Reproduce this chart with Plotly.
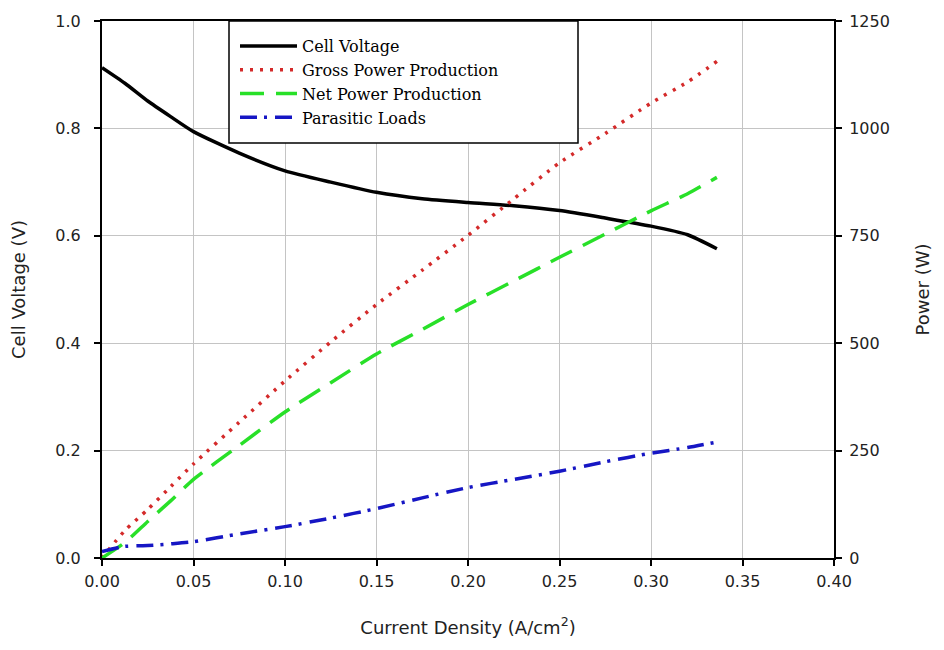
import plotly.graph_objects as go

# ---- data ----
current_density = [0.0, 0.0125, 0.025, 0.0375, 0.05, 0.075, 0.10, 0.125, 0.15,
                   0.175, 0.20, 0.225, 0.25, 0.275, 0.30, 0.32, 0.336]
cell_voltage = [0.913, 0.884, 0.851, 0.822, 0.794, 0.754, 0.721, 0.700, 0.681,
                0.669, 0.662, 0.656, 0.647, 0.633, 0.618, 0.602, 0.576]
gross_power = [0, 64, 113, 166, 219, 316, 412, 503, 590,
               670, 751, 836, 920, 988, 1059, 1108, 1156]
net_power = [0, 36, 85, 133, 183, 262, 340, 408, 475,
             532, 590, 645, 700, 754, 808, 848, 886]
parasitic_loads = [15, 27, 29, 33, 38, 56, 73, 93, 115,
                   140, 164, 183, 202, 224, 244, 257, 270]

x_ticks = [0.0, 0.05, 0.10, 0.15, 0.20, 0.25, 0.30, 0.35, 0.40]
y_ticks = [0.0, 0.2, 0.4, 0.6, 0.8, 1.0]
y2_ticks = [0, 250, 500, 750, 1000, 1250]

fig = go.Figure()
fig.add_trace(go.Scatter(x=current_density, y=cell_voltage, mode="lines",
                         name="Cell Voltage",
                         line=dict(color="black", width=3.5, shape="spline", smoothing=0.6)))
fig.add_trace(go.Scatter(x=current_density, y=gross_power, mode="lines",
                         name="Gross Power Production", yaxis="y2",
                         line=dict(color="#d42a2a", width=3.5, dash="3px,7px",
                                   shape="spline", smoothing=0.6)))
fig.add_trace(go.Scatter(x=current_density, y=net_power, mode="lines",
                         name="Net Power Production", yaxis="y2",
                         line=dict(color="#28e028", width=3.5, dash="24px,12px",
                                   shape="spline", smoothing=0.6)))
fig.add_trace(go.Scatter(x=current_density, y=parasitic_loads, mode="lines",
                         name="Parasitic Loads", yaxis="y2",
                         line=dict(color="#1616c4", width=3.5, dash="17px,7px,3px,8px",
                                   shape="spline", smoothing=0.6)))

sans = "DejaVu Sans, Verdana, sans-serif"
tick_font = dict(family=sans, size=16, color="#222")
title_font = dict(family=sans, size=18, color="#222")

L, R, T, B = 102, 110, 21, 92
W, H = 944, 650
pw, ph = W - L - R, H - T - B

def px_x(p):
    return (p - L) / pw

def px_y(p):
    return (H - B - p) / ph

fig.update_layout(
    width=W, height=H,
    margin=dict(l=L, r=R, t=T, b=B, pad=0),
    paper_bgcolor="white", plot_bgcolor="white",
    showlegend=True,
    xaxis=dict(range=[0, 0.4], tickvals=x_ticks, tickformat=".2f",
               showgrid=True, gridcolor="#c4c4c4", gridwidth=1,
               showline=True, linecolor="black", linewidth=2, mirror=True,
               ticks="outside", ticklen=6, tickwidth=1.5, tickcolor="black",
               tickfont=tick_font, zeroline=False, ticklabelstandoff=2,
               title=dict(text="Current Density (A/cm<sup>2</sup>)", font=title_font,
                          standoff=31)),
    yaxis=dict(range=[0, 1.0], tickvals=y_ticks, tickformat=".1f",
               showgrid=True, gridcolor="#c4c4c4", gridwidth=1,
               showline=True, linecolor="black", linewidth=2,
               ticks="outside", ticklen=6, tickwidth=1.5, tickcolor="black",
               tickfont=tick_font, zeroline=False, ticklabelstandoff=10,
               title=dict(text="Cell Voltage (V)", font=title_font, standoff=25)),
    yaxis2=dict(range=[0, 1250], tickvals=y2_ticks, overlaying="y", side="right",
                showgrid=False, showline=True, linecolor="black", linewidth=2,
                ticks="outside", ticklen=6, tickwidth=1.5, tickcolor="black",
                tickfont=tick_font, zeroline=False, ticklabelstandoff=4,
                title=dict(text="Power (W)", font=title_font, standoff=27)),
    legend=dict(x=px_x(235), y=px_y(29), xanchor="left", yanchor="top",
                bgcolor="rgba(0,0,0,0)", borderwidth=0, itemwidth=57,
                font=dict(family="DejaVu Serif, Times New Roman, serif",
                          size=16, color="black"),
                tracegroupgap=0),
    shapes=[dict(type="rect", xref="paper", yref="paper",
                 x0=px_x(229), x1=px_x(578), y0=px_y(143), y1=px_y(21),
                 line=dict(color="black", width=1.5), fillcolor="white",
                 layer="above")],
)

fig.write_html("out.html")
